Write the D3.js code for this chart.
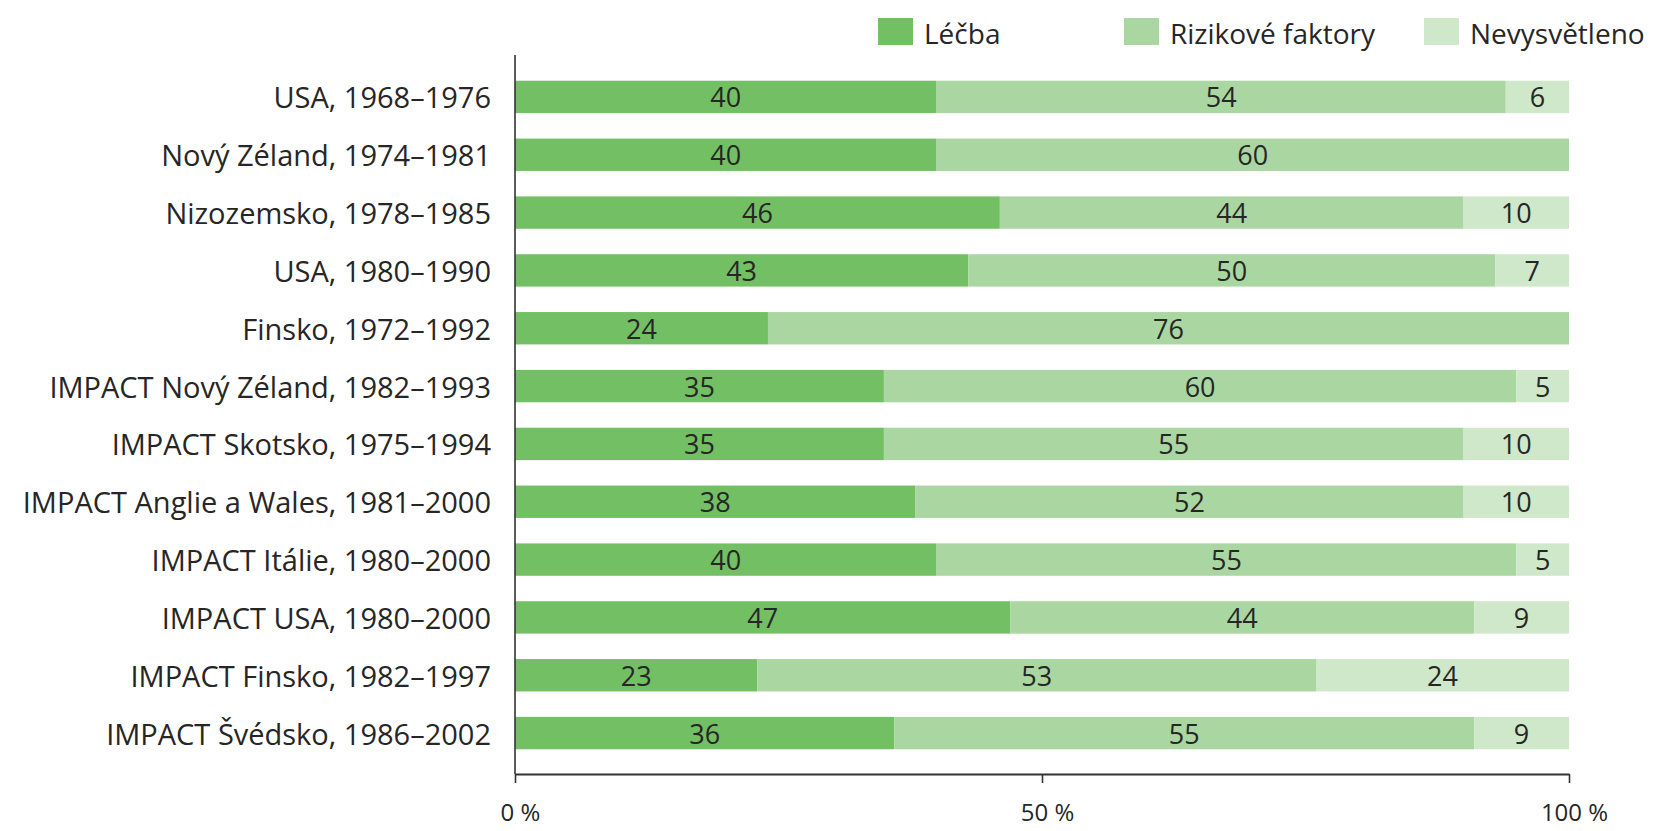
<!DOCTYPE html>
<html>
<head>
<meta charset="utf-8">
<script src="https://cdn.jsdelivr.net/npm/d3@7"></script>
<style>
  html, body { margin: 0; padding: 0; background: #fff; }
  svg { display: block; }
  text { font-family: "Open Sans", "Noto Sans", sans-serif; fill: #262626; }
</style>
</head>
<body>
<svg id="chart" width="1655" height="831"></svg>
<script>
// Studie a sledovaná období
const categories = [
  "USA, 1968–1976",
  "Nový Zéland, 1974–1981",
  "Nizozemsko, 1978–1985",
  "USA, 1980–1990",
  "Finsko, 1972–1992",
  "IMPACT Nový Zéland, 1982–1993",
  "IMPACT Skotsko, 1975–1994",
  "IMPACT Anglie a Wales, 1981–2000",
  "IMPACT Itálie, 1980–2000",
  "IMPACT USA, 1980–2000",
  "IMPACT Finsko, 1982–1997",
  "IMPACT Švédsko, 1986–2002"
];

// Podíl (%) poklesu úmrtnosti připsaný jednotlivým faktorům
const lecba      = [40, 40, 46, 43, 24, 35, 35, 38, 40, 47, 23, 36];
const rizikove   = [54, 60, 44, 50, 76, 60, 55, 52, 55, 44, 53, 55];
const nevysvetl  = [ 6,  0, 10,  7,  0,  5, 10, 10,  5,  9, 24,  9];

const seriesNames = ["Léčba", "Rizikové faktory", "Nevysvětleno"];
const seriesColors = ["#73bf64", "#aad7a1", "#cfe8c9"];

const tickValues = [0, 50, 100];
const tickLabels = ["0 %", "50 %", "100 %"];

// Tabulka pro d3.stack
const rows = categories.map((c, i) => ({
  cat: c,
  "Léčba": lecba[i],
  "Rizikové faktory": rizikove[i],
  "Nevysvětleno": nevysvetl[i]
}));

const svg = d3.select("#chart");

const plot = { left: 515, right: 1569, top: 68, bottom: 762, axisTop: 55, axisY: 774 };

const x = d3.scaleLinear().domain([0, 100]).range([plot.left, plot.right]);
const y = d3.scaleBand().domain(categories).range([plot.top, plot.bottom])
  .paddingInner(0.44).paddingOuter(0.22);
const color = d3.scaleOrdinal().domain(seriesNames).range(seriesColors);

const stacked = d3.stack().keys(seriesNames)(rows);

// Pruhy
const layers = svg.append("g").selectAll("g")
  .data(stacked).join("g")
  .attr("fill", d => color(d.key));

layers.selectAll("rect")
  .data(d => d.filter(p => p[1] - p[0] > 0))
  .join("rect")
  .attr("x", d => x(d[0]))
  .attr("y", d => y(d.data.cat))
  .attr("width", d => x(d[1]) - x(d[0]))
  .attr("height", y.bandwidth());

// Hodnoty uvnitř pruhů
layers.selectAll("text")
  .data(d => d.filter(p => p[1] - p[0] > 0).map(p => ({ p, key: d.key })))
  .join("text")
  .attr("x", d => (x(d.p[0]) + x(d.p[1])) / 2)
  .attr("y", d => y(d.p.data.cat) + y.bandwidth() / 2)
  .attr("text-anchor", "middle")
  .attr("dominant-baseline", "central")
  .attr("font-size", 27)
  .text(d => d.p.data[d.key]);

// Popisky kategorií
svg.append("g").selectAll("text")
  .data(categories).join("text")
  .attr("x", plot.left - 24)
  .attr("y", d => y(d) + y.bandwidth() / 2)
  .attr("text-anchor", "end")
  .attr("dominant-baseline", "central")
  .attr("font-size", 29)
  .text(d => d);

// Svislá osa
svg.append("line")
  .attr("x1", plot.left).attr("x2", plot.left)
  .attr("y1", plot.axisTop).attr("y2", plot.axisY)
  .attr("stroke", "#333").attr("stroke-width", 1.6);

// Vodorovná osa
const xAxis = d3.axisBottom(x)
  .tickValues(tickValues)
  .tickSize(9)
  .tickSizeOuter(0)
  .tickFormat((d, i) => tickLabels[i]);

const gx = svg.append("g")
  .attr("transform", `translate(0,${plot.axisY})`)
  .call(xAxis);
gx.select(".domain").attr("stroke", "#333").attr("stroke-width", 1.8);
gx.selectAll(".tick line").attr("stroke", "#333").attr("stroke-width", 1.6);
gx.selectAll(".tick text")
  .attr("font-family", null)
  .attr("font-size", 24)
  .attr("fill", "#262626")
  .attr("y", 39)
  .attr("dx", 5)
  .attr("dy", "0.32em");

// Legenda
const legendX = [878, 1124, 1424];
const legend = svg.append("g").selectAll("g")
  .data(seriesNames).join("g")
  .attr("transform", (d, i) => `translate(${legendX[i]},18)`);
legend.append("rect")
  .attr("width", 35).attr("height", 27)
  .attr("fill", d => color(d));
legend.append("text")
  .attr("x", 46).attr("y", 15)
  .attr("dominant-baseline", "central")
  .attr("font-size", 28)
  .text(d => d);
</script>
</body>
</html>
